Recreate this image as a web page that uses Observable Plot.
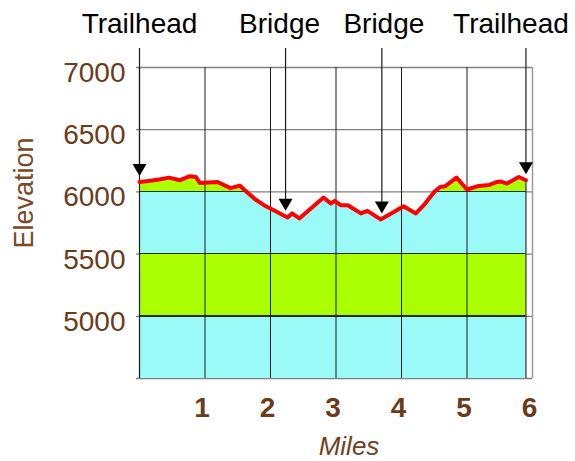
<!DOCTYPE html>
<html><head><meta charset="utf-8">
<script src="https://cdn.jsdelivr.net/npm/d3@7"></script>
<script src="https://cdn.jsdelivr.net/npm/@observablehq/plot@0.6"></script>
<style>body{margin:0;background:#fff}svg{display:block}</style>
</head><body><div id="chart"></div>
<script>
// ---- data ----
const miles = [0, 0.17, 0.32, 0.45, 0.62, 0.77, 0.86, 0.92, 1.19, 1.39, 1.53, 1.62, 1.77, 1.90, 2.05, 2.26, 2.33, 2.44, 2.81, 2.92, 2.98, 3.07, 3.18, 3.38, 3.48, 3.68, 3.89, 4.03, 4.22, 4.34, 4.50, 4.59, 4.67, 4.84, 5.00, 5.18, 5.34, 5.46, 5.52, 5.61, 5.79, 5.90];
const elevations = [6080, 6090, 6102, 6115, 6094, 6126, 6120, 6072, 6080, 6030, 6051, 6008, 5939, 5893, 5853, 5795, 5827, 5787, 5955, 5907, 5928, 5893, 5893, 5827, 5848, 5779, 5840, 5885, 5827, 5893, 6000, 6040, 6046, 6115, 6019, 6048, 6056, 6080, 6083, 6067, 6120, 6094];
const yTicks = [5000, 5500, 6000, 6500, 7000];
const yGrid = [4500, 5000, 5500, 6000, 6500, 7000];
const xTicks = [1, 2, 3, 4, 5, 6];
const xGrid = [1, 2, 3, 4, 5];
const bandEdges = [4500, 5000, 5500, 6000, 7000];
const bandColors = ["#99faf8", "#aaff00", "#99faf8", "#aaff00"];
const markerLabels = ["Trailhead", "Bridge", "Bridge", "Trailhead"];
const markerMiles = [0, 2.23, 3.70, 5.90];
const markerElev = [6080, 5800, 5779, 6094];

(function () {
const profile = miles.map((m, i) => ({mile: m, elev: elevations[i]}));
const markers = markerLabels.map((l, i) => ({label: l, mile: markerMiles[i], elev: markerElev[i]}));
const last = profile[profile.length - 1];

const brown = "#6b3c1c";
const downTriangle = {draw(ctx) { ctx.moveTo(0, 0); ctx.lineTo(-7, -12); ctx.lineTo(7, -12); ctx.closePath(); }};
const labelDx = [0, -6, 2, -15];

const chart = Plot.plot({
  width: 575, height: 461,
  marginLeft: 139, marginRight: 43, marginTop: 67, marginBottom: 83,
  x: {domain: [0, 6], axis: null},
  y: {domain: [4500, 7000], axis: null},
  style: {fontFamily: "'Liberation Sans', Arial, sans-serif", background: "#fff"},
  marks: [
    Plot.ruleY(yGrid, {y: d => d, stroke: "#808080", strokeWidth: 1.3, insetLeft: -3}),
    Plot.areaY(profile, {x: "mile", y1: d => 4500, y2: "elev", fill: "url(#elevBands)"}),
    Plot.ruleX([last], {x: "mile", y1: d => 4500, y2: "elev", stroke: "#2a2a2a", strokeWidth: 1.2}),
    Plot.ruleX(xGrid, {x: d => d, stroke: "#1a1a1a", strokeWidth: 1}),
    Plot.ruleX([6], {x: d => d, stroke: "#9a9a9a", strokeWidth: 1.5}),
    Plot.ruleX([0], {x: d => d, stroke: "#1a1a1a", strokeWidth: 1.2}),
    Plot.line(profile, {x: "mile", y: "elev", stroke: "#ff0000", strokeWidth: 4, strokeLinejoin: "round"}),
    Plot.ruleX(markers, {x: "mile", y1: d => 7000, y2: "elev", insetTop: -19, insetBottom: 12, stroke: "#1a1a1a", strokeWidth: 1.2}),
    Plot.dot(markers, {x: "mile", y: "elev", symbol: downTriangle, fill: "#000", stroke: "none", dy: -6}),
    ...markers.map((m, i) => Plot.text([m], {x: "mile", text: "label", frameAnchor: "top", lineAnchor: "middle", dy: -43, dx: labelDx[i], fontSize: 28, fill: "#000"})),
    Plot.text(yTicks, {y: d => d, text: d => String(d), frameAnchor: "left", textAnchor: "end", lineAnchor: "middle", dx: -14, dy: 5.5, fontSize: 28, fill: brown}),
    Plot.text(xTicks, {x: d => d, text: d => String(d), frameAnchor: "bottom", lineAnchor: "middle", dy: 30, dx: -3, fontSize: 28, fontWeight: "bold", fill: brown}),
    Plot.text(["Miles"], {text: d => d, frameAnchor: "bottom", lineAnchor: "middle", dx: 13, dy: 68, fontSize: 26, fontStyle: "italic", fill: "#6f4222"}),
    Plot.text(["Elevation"], {text: d => d, frameAnchor: "left", textAnchor: "middle", lineAnchor: "middle", rotate: -90, dx: -115, dy: -30, fontSize: 27, fill: "#7a4a28"})
  ]
});

// gradient with band colours, positioned by Plot's y scale
const ys = chart.scale("y");
const yTop = ys.apply(7000), yBot = ys.apply(4500), span = yBot - yTop;
const off = v => (ys.apply(v) - yTop) / span;
const h = 0.8 / span;
const edge = "#2a2a2a";
const bands = bandColors.map((c, i) => ({lo: bandEdges[i], hi: bandEdges[i + 1], c})).reverse();
const stops = [];
bands.forEach((b, i) => {
  const a = off(b.hi), z = off(b.lo);
  stops.push([i === 0 ? a : a + h, b.c]);
  stops.push([i === bands.length - 1 ? z : z - h, b.c]);
  if (i < bands.length - 1) { stops.push([z - h, edge]); stops.push([z + h, edge]); }
});
const ns = "http://www.w3.org/2000/svg";
const defs = document.createElementNS(ns, "defs");
const grad = document.createElementNS(ns, "linearGradient");
grad.setAttribute("id", "elevBands");
grad.setAttribute("gradientUnits", "userSpaceOnUse");
grad.setAttribute("x1", 0); grad.setAttribute("x2", 0);
grad.setAttribute("y1", yTop); grad.setAttribute("y2", yBot);
stops.forEach(([o, c]) => {
  const s = document.createElementNS(ns, "stop");
  s.setAttribute("offset", Math.max(0, Math.min(1, o)));
  s.setAttribute("stop-color", c);
  grad.appendChild(s);
});
defs.appendChild(grad);
chart.insertBefore(defs, chart.firstChild);
document.getElementById("chart").appendChild(chart);
})();
</script>
</body></html>
